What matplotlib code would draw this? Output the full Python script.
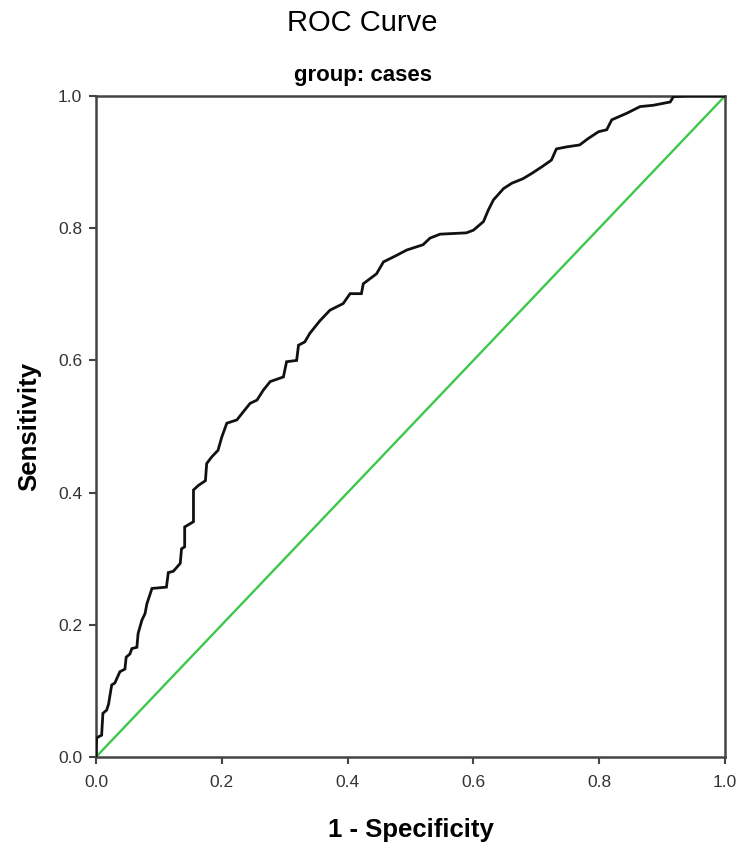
import matplotlib
matplotlib.use("Agg")
import matplotlib.pyplot as plt

plt.rcParams['font.family'] = ['Liberation Sans', 'DejaVu Sans']

# --- ROC curve points (1 - specificity, sensitivity) ---
fpr = [0.0, 0.001, 0.003, 0.009, 0.011, 0.017, 0.020, 0.025, 0.030, 0.038, 0.046,
       0.048, 0.054, 0.057, 0.065, 0.067, 0.073, 0.078, 0.081, 0.089, 0.112, 0.115,
       0.123, 0.134, 0.136, 0.141, 0.141, 0.155, 0.155, 0.163, 0.174, 0.176, 0.184,
       0.194, 0.200, 0.208, 0.224, 0.234, 0.245, 0.256, 0.266, 0.277, 0.298, 0.303,
       0.319, 0.322, 0.332, 0.340, 0.356, 0.372, 0.393, 0.404, 0.422, 0.425, 0.446,
       0.457, 0.478, 0.494, 0.520, 0.531, 0.547, 0.589, 0.600, 0.616, 0.624, 0.632,
       0.648, 0.661, 0.679, 0.693, 0.709, 0.724, 0.732, 0.748, 0.769, 0.783, 0.799,
       0.812, 0.820, 0.844, 0.865, 0.886, 0.913, 0.918, 0.939, 1.0]
tpr = [0.0, 0.028, 0.030, 0.033, 0.066, 0.071, 0.080, 0.109, 0.112, 0.129, 0.133,
       0.151, 0.156, 0.164, 0.166, 0.187, 0.207, 0.217, 0.232, 0.255, 0.257, 0.279,
       0.281, 0.293, 0.315, 0.318, 0.348, 0.356, 0.404, 0.411, 0.418, 0.444, 0.454,
       0.464, 0.484, 0.505, 0.510, 0.522, 0.535, 0.540, 0.555, 0.568, 0.575, 0.598,
       0.600, 0.623, 0.628, 0.641, 0.660, 0.676, 0.686, 0.701, 0.701, 0.716, 0.731,
       0.749, 0.759, 0.767, 0.775, 0.785, 0.791, 0.793, 0.797, 0.810, 0.828, 0.843,
       0.860, 0.868, 0.875, 0.883, 0.893, 0.903, 0.920, 0.923, 0.926, 0.936, 0.946,
       0.949, 0.964, 0.974, 0.984, 0.986, 0.991, 0.999, 1.0, 1.0]
ref_line = [0.0, 1.0]

fig = plt.figure(figsize=(7.4, 8.46), dpi=100)
ax = fig.add_axes([0.1297, 0.1052, 0.8500, 0.7813])

ax.plot(ref_line, ref_line, color='#3dc84b', lw=1.7, zorder=2)
ax.plot(fpr, tpr, color='#111111', lw=2.0, zorder=3, solid_joinstyle='miter')

ax.set_xlim(0, 1)
ax.set_ylim(0, 1)
ticks = [0.0, 0.2, 0.4, 0.6, 0.8, 1.0]
ax.set_xticks(ticks)
ax.set_yticks(ticks)
ax.set_xticklabels([f"{t:.1f}" for t in ticks])
ax.set_yticklabels([f"{t:.1f}" for t in ticks])
ax.tick_params(direction='out', length=5, width=1.5, color='#444444',
               labelsize=12.5, labelcolor='#333333')
ax.tick_params(axis='x', pad=8)
ax.tick_params(axis='y', pad=5)
for s in ax.spines.values():
    s.set_color('#444444')
    s.set_linewidth(1.8)

ax.set_xlabel("1 - Specificity", fontsize=18.5, fontweight='bold', labelpad=20)
ax.set_ylabel("Sensitivity", fontsize=18.5, fontweight='bold', labelpad=12)

fig.text(0.49, 0.973, "ROC Curve", ha='center', va='center', fontsize=21)
fig.text(0.49, 0.911, "group: cases", ha='center', va='center', fontsize=16,
         fontweight='bold')

fig.savefig("out.png", dpi=100)
